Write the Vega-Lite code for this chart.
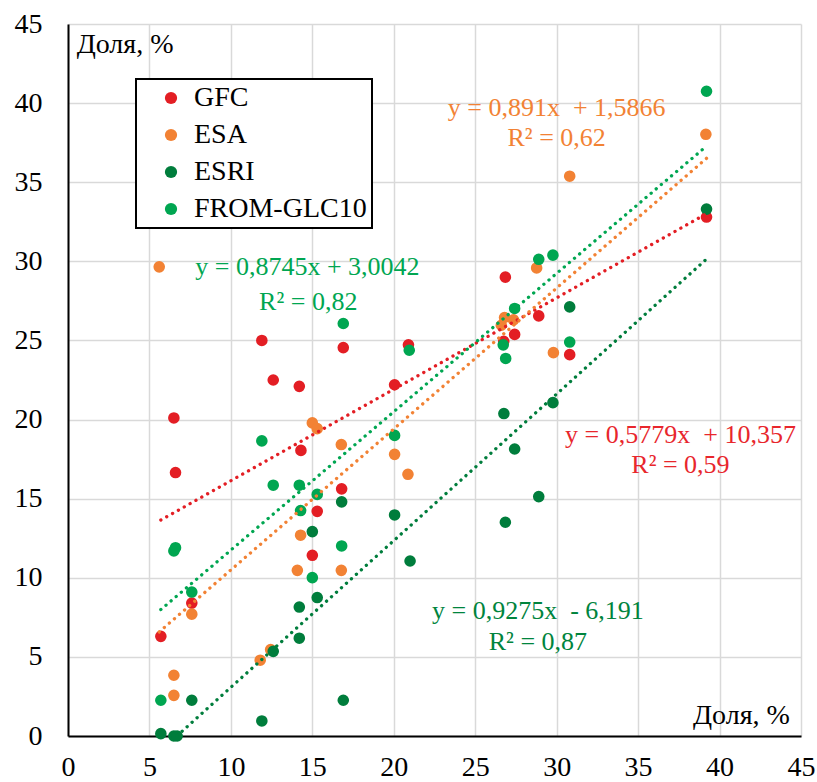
{
  "$schema": "https://vega.github.io/schema/vega-lite/v6.json",
  "width": 733,
  "height": 712,
  "autosize": {"type": "none"},
  "padding": {"left": 68, "top": 24, "right": 16, "bottom": 46},
  "background": "#ffffff",
  "config": {
    "view": {"stroke": null},
    "font": "Liberation Serif, Times New Roman, serif",
    "axis": {
      "grid": true,
      "gridColor": "#D9D9D9",
      "gridWidth": 1.5,
      "domainColor": "#000000",
      "domainWidth": 2,
      "ticks": false,
      "labelFont": "Liberation Serif, Times New Roman, serif",
      "labelFontSize": 28,
      "labelColor": "#000000",
      "title": null
    },
    "legend": {
      "orient": "none",
      "legendX": 68,
      "legendY": 55,
      "strokeColor": "#000000",
      "strokeWidth": 2,
      "fillColor": "#ffffff",
      "padding": 5,
      "labelFont": "Liberation Serif, Times New Roman, serif",
      "labelFontSize": 28,
      "labelColor": "#000000",
      "labelLimit": 400,
      "symbolSize": 150,
      "symbolType": "circle",
      "symbolOpacity": 1,
      "symbolStrokeWidth": 0,
      "rowPadding": 9,
      "symbolOffset": 16,
      "labelOffset": 9
    }
  },
  "datasets": {
    "pts": [
      {"series": "GFC", "x": 5.7, "y": 6.3},
      {"series": "GFC", "x": 6.5, "y": 20.1},
      {"series": "GFC", "x": 6.6, "y": 16.65},
      {"series": "GFC", "x": 7.6, "y": 8.4},
      {"series": "GFC", "x": 11.9, "y": 25.0},
      {"series": "GFC", "x": 12.6, "y": 22.5},
      {"series": "GFC", "x": 14.2, "y": 22.1},
      {"series": "GFC", "x": 14.3, "y": 18.05},
      {"series": "GFC", "x": 15.0, "y": 11.42},
      {"series": "GFC", "x": 15.3, "y": 14.2},
      {"series": "GFC", "x": 16.8, "y": 15.62},
      {"series": "GFC", "x": 16.9, "y": 24.55},
      {"series": "GFC", "x": 20.05, "y": 22.2},
      {"series": "GFC", "x": 20.9, "y": 24.72},
      {"series": "GFC", "x": 26.75, "y": 24.95},
      {"series": "GFC", "x": 26.85, "y": 29.0},
      {"series": "GFC", "x": 27.42, "y": 25.38},
      {"series": "GFC", "x": 28.9, "y": 26.55},
      {"series": "GFC", "x": 30.8, "y": 24.1},
      {"series": "GFC", "x": 39.2, "y": 32.8},
      {"series": "ESA", "x": 5.6, "y": 29.65},
      {"series": "ESA", "x": 6.5, "y": 3.84},
      {"series": "ESA", "x": 6.5, "y": 2.57},
      {"series": "ESA", "x": 7.6, "y": 7.7},
      {"series": "ESA", "x": 11.8, "y": 4.79},
      {"series": "ESA", "x": 12.44, "y": 5.46},
      {"series": "ESA", "x": 14.08, "y": 10.47},
      {"series": "ESA", "x": 14.28, "y": 12.69},
      {"series": "ESA", "x": 15.0, "y": 19.79},
      {"series": "ESA", "x": 15.3, "y": 19.43},
      {"series": "ESA", "x": 16.78, "y": 18.42},
      {"series": "ESA", "x": 16.78, "y": 10.47},
      {"series": "ESA", "x": 20.05, "y": 17.8},
      {"series": "ESA", "x": 20.87, "y": 16.54},
      {"series": "ESA", "x": 26.6, "y": 25.96},
      {"series": "ESA", "x": 26.8, "y": 26.45},
      {"series": "ESA", "x": 27.35, "y": 26.3},
      {"series": "ESA", "x": 28.77, "y": 29.58},
      {"series": "ESA", "x": 29.8, "y": 24.23},
      {"series": "ESA", "x": 30.8, "y": 35.38},
      {"series": "ESA", "x": 39.16, "y": 38.03},
      {"series": "ESRI", "x": 5.7, "y": 0.15},
      {"series": "ESRI", "x": 6.5, "y": 0.0},
      {"series": "ESRI", "x": 6.7, "y": 0.0},
      {"series": "ESRI", "x": 7.6, "y": 2.26},
      {"series": "ESRI", "x": 11.9, "y": 0.95},
      {"series": "ESRI", "x": 12.6, "y": 5.35},
      {"series": "ESRI", "x": 14.2, "y": 8.15},
      {"series": "ESRI", "x": 14.2, "y": 6.18},
      {"series": "ESRI", "x": 15.0, "y": 12.92},
      {"series": "ESRI", "x": 15.3, "y": 8.75},
      {"series": "ESRI", "x": 16.8, "y": 14.8},
      {"series": "ESRI", "x": 16.9, "y": 2.26},
      {"series": "ESRI", "x": 20.05, "y": 13.97},
      {"series": "ESRI", "x": 21.0, "y": 11.06},
      {"series": "ESRI", "x": 26.76, "y": 20.38},
      {"series": "ESRI", "x": 26.85, "y": 13.51},
      {"series": "ESRI", "x": 27.42, "y": 18.14},
      {"series": "ESRI", "x": 28.9, "y": 15.13},
      {"series": "ESRI", "x": 29.77, "y": 21.07},
      {"series": "ESRI", "x": 30.8, "y": 27.12},
      {"series": "ESRI", "x": 39.2, "y": 33.3},
      {"series": "FROM-GLC10", "x": 5.7, "y": 2.26},
      {"series": "FROM-GLC10", "x": 6.5, "y": 11.7},
      {"series": "FROM-GLC10", "x": 6.6, "y": 11.9},
      {"series": "FROM-GLC10", "x": 7.6, "y": 9.1},
      {"series": "FROM-GLC10", "x": 11.9, "y": 18.65},
      {"series": "FROM-GLC10", "x": 12.6, "y": 15.85},
      {"series": "FROM-GLC10", "x": 14.2, "y": 15.85},
      {"series": "FROM-GLC10", "x": 14.28, "y": 14.25},
      {"series": "FROM-GLC10", "x": 15.0, "y": 10.01},
      {"series": "FROM-GLC10", "x": 15.3, "y": 15.27},
      {"series": "FROM-GLC10", "x": 16.8, "y": 12.01},
      {"series": "FROM-GLC10", "x": 16.9, "y": 26.07},
      {"series": "FROM-GLC10", "x": 20.05, "y": 19.0},
      {"series": "FROM-GLC10", "x": 20.95, "y": 24.38},
      {"series": "FROM-GLC10", "x": 26.72, "y": 24.72},
      {"series": "FROM-GLC10", "x": 26.87, "y": 23.86},
      {"series": "FROM-GLC10", "x": 27.42, "y": 27.02},
      {"series": "FROM-GLC10", "x": 28.9, "y": 30.13},
      {"series": "FROM-GLC10", "x": 29.77, "y": 30.39},
      {"series": "FROM-GLC10", "x": 30.8, "y": 24.9},
      {"series": "FROM-GLC10", "x": 39.2, "y": 40.75}
    ],
    "trends": [
      {"trend": "GFC", "x": 5.7, "y": 13.65},
      {"trend": "GFC", "x": 39.2, "y": 33.01},
      {"trend": "ESA", "x": 5.6, "y": 6.58},
      {"trend": "ESA", "x": 39.2, "y": 36.51},
      {"trend": "ESRI", "x": 6.7, "y": 0.02},
      {"trend": "ESRI", "x": 39.15, "y": 30.1},
      {"trend": "FROM-GLC10", "x": 5.7, "y": 7.99},
      {"trend": "FROM-GLC10", "x": 39.2, "y": 37.28}
    ],
    "eqs": [
      {"eq": "ESA", "x": 30.0, "y": 39.68, "label": "y = 0,891x\u00a0 + 1,5866"},
      {"eq": "ESA", "x": 30.0, "y": 37.78, "label": "R² = 0,62"},
      {"eq": "FROM-GLC10", "x": 14.7, "y": 29.63, "label": "y = 0,8745x + 3,0042"},
      {"eq": "FROM-GLC10", "x": 14.75, "y": 27.43, "label": "R² = 0,82"},
      {"eq": "GFC", "x": 37.6, "y": 19.0, "label": "y = 0,5779x\u00a0 + 10,357"},
      {"eq": "GFC", "x": 37.6, "y": 17.11, "label": "R² = 0,59"},
      {"eq": "ESRI", "x": 28.85, "y": 7.9, "label": "y = 0,9275x\u00a0 - 6,191"},
      {"eq": "ESRI", "x": 28.85, "y": 5.94, "label": "R² = 0,87"}
    ],
    "titles": [
      {"x": 0.53, "y": 43.15, "label": "Доля, %", "pos": "left"},
      {"x": 44.32, "y": 0.78, "label": "Доля, %", "pos": "right"}
    ]
  },
  "encoding": {
    "x": {
      "field": "x", "type": "quantitative",
      "scale": {"domain": [0, 45], "nice": false, "zero": false},
      "axis": {"values": [0, 5, 10, 15, 20, 25, 30, 35, 40, 45], "labelPadding": 17, "labelFlush": false}
    },
    "y": {
      "field": "y", "type": "quantitative",
      "scale": {"domain": [0, 45], "nice": false, "zero": false},
      "axis": {"values": [0, 5, 10, 15, 20, 25, 30, 35, 40, 45], "labelPadding": 26, "labelFlush": false}
    }
  },
  "layer": [
    {
      "data": {"name": "pts"},
      "mark": {"type": "circle", "size": 135, "opacity": 1},
      "encoding": {
        "color": {
          "field": "series", "type": "nominal",
          "scale": {"domain": ["GFC", "ESA", "ESRI", "FROM-GLC10"], "range": ["#E31E24", "#F28234", "#007D3C", "#00A651"]},
          "sort": null,
          "legend": {"title": null}
        }
      }
    },
    {
      "data": {"name": "trends"},
      "mark": {"type": "line", "strokeDash": [0.1, 6.6], "strokeCap": "round", "strokeWidth": 3.3},
      "encoding": {
        "detail": {"field": "trend"},
        "stroke": {
          "field": "trend", "type": "nominal",
          "scale": {"domain": ["GFC", "ESA", "ESRI", "FROM-GLC10"], "range": ["#E31E24", "#F28234", "#007D3C", "#00A651"]},
          "legend": null
        }
      }
    },
    {
      "data": {"name": "eqs"},
      "mark": {"type": "text", "font": "Liberation Serif, Times New Roman, serif", "fontSize": 26, "align": "center", "baseline": "middle"},
      "encoding": {
        "text": {"field": "label"},
        "fill": {
          "field": "eq", "type": "nominal",
          "scale": {"domain": ["GFC", "ESA", "ESRI", "FROM-GLC10"], "range": ["#E8262C", "#F28234", "#00843D", "#00A651"]},
          "legend": null
        }
      }
    },
    {
      "data": {"name": "titles"},
      "transform": [{"filter": "datum.pos == 'left'"}],
      "mark": {"type": "text", "font": "Liberation Serif, Times New Roman, serif", "fontSize": 28, "align": "left", "baseline": "alphabetic", "color": "#000000"},
      "encoding": {"text": {"field": "label"}}
    },
    {
      "data": {"name": "titles"},
      "transform": [{"filter": "datum.pos == 'right'"}],
      "mark": {"type": "text", "font": "Liberation Serif, Times New Roman, serif", "fontSize": 28, "align": "right", "baseline": "alphabetic", "color": "#000000"},
      "encoding": {"text": {"field": "label"}}
    }
  ]
}
